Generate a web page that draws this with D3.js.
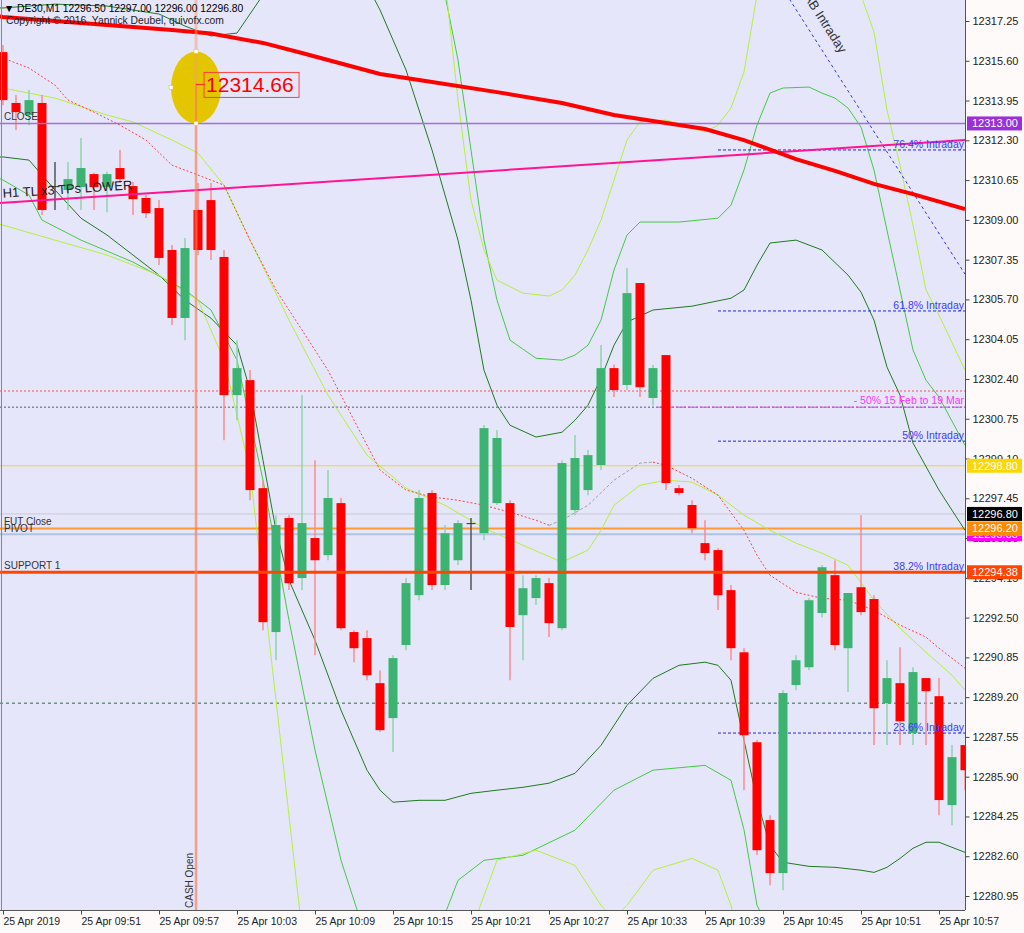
<!DOCTYPE html>
<html><head><meta charset="utf-8">
<script src="https://cdn.jsdelivr.net/npm/d3@7"></script>
<style>body{margin:0;background:#fffafa;}svg{display:block;font-family:"Liberation Sans",Arial,sans-serif;}</style>
</head><body>
<svg id="chart" width="1024" height="933"></svg>
<script>
// ---------- DATA ----------
const symbolHeader = "\u25BC DE30,M1  12296.50 12297.00 12296.00 12296.80";
const copyright = "Copyright \u00A9 2016, Yannick Deubel, quivofx.com";
const priceTicks = [12317.25,12315.60,12313.95,12312.30,12310.65,12309.00,12307.35,12305.70,12304.05,12302.40,12300.75,12299.10,12297.45,12295.80,12294.15,12292.50,12290.85,12289.20,12287.55,12285.90,12284.25,12282.60,12280.95];
const timeTickIdx = [0,6,12,18,24,30,36,42,48,54,60,66,72];
const timeTickLabels = ["25 Apr 2019","25 Apr 09:51","25 Apr 09:57","25 Apr 10:03","25 Apr 10:09","25 Apr 10:15","25 Apr 10:21","25 Apr 10:27","25 Apr 10:33","25 Apr 10:39","25 Apr 10:45","25 Apr 10:51","25 Apr 10:57"];

const opens  = [12315.96,12313.85,12313.35,12313.85,12310.40,12310.24,12310.36,12310.90,12310.36,12311.15,12310.40,12309.91,12309.49,12307.75,12304.93,12309.41,12309.82,12307.46,12301.73,12302.35,12297.87,12291.90,12296.63,12294.14,12295.80,12295.09,12297.25,12291.90,12291.65,12289.78,12288.33,12291.36,12293.43,12297.67,12293.85,12294.88,12296.42,12296.00,12297.25,12297.25,12292.60,12293.31,12293.93,12292.06,12296.96,12297.79,12298.83,12302.85,12302.15,12306.38,12301.61,12303.39,12297.87,12297.17,12295.59,12295.30,12293.64,12291.06,12287.33,12284.10,12281.90,12289.70,12290.44,12292.69,12294.26,12291.23,12293.76,12293.27,12288.95,12289.78,12287.71,12289.99,12289.24,12284.72,12287.21];
const highs  = [12316.25,12314.18,12314.39,12314.18,12311.40,12311.40,12312.40,12310.95,12311.00,12311.90,12310.57,12310.03,12309.82,12307.96,12308.25,12310.53,12310.53,12307.75,12304.01,12302.77,12298.20,12296.75,12296.75,12301.73,12299.03,12298.62,12297.46,12291.98,12291.98,12290.32,12290.94,12294.14,12297.79,12297.79,12296.34,12296.54,12296.63,12300.49,12300.28,12297.37,12294.26,12294.26,12294.14,12299.03,12300.07,12299.45,12303.81,12303.00,12307.00,12306.38,12302.98,12303.39,12298.00,12297.37,12296.54,12295.38,12293.85,12291.23,12287.42,12284.30,12289.49,12290.94,12293.31,12294.68,12294.88,12293.52,12296.75,12293.43,12290.73,12291.27,12290.44,12290.00,12289.99,12287.21,12287.21];
const lows   = [12313.76,12312.73,12312.93,12309.20,12309.41,12309.41,12309.41,12309.41,12309.32,12310.53,12309.20,12309.08,12307.13,12304.64,12304.01,12307.54,12307.33,12299.86,12300.69,12297.37,12291.98,12290.73,12293.64,12293.64,12290.94,12294.88,12291.98,12290.65,12289.90,12287.75,12286.92,12291.15,12293.22,12293.64,12293.64,12294.68,12293.64,12295.71,12297.17,12289.90,12290.73,12293.02,12291.69,12291.98,12296.75,12297.58,12298.62,12301.65,12301.94,12301.65,12301.30,12297.79,12297.58,12296.00,12294.88,12292.81,12290.73,12285.34,12282.65,12281.40,12281.19,12289.49,12290.32,12292.50,12291.15,12289.41,12292.60,12287.21,12287.21,12287.21,12287.21,12287.21,12284.30,12283.89,12285.34];
const closes = [12313.97,12313.47,12313.97,12309.41,12310.40,12310.69,12311.15,12310.36,12310.90,12310.69,12309.86,12309.28,12307.42,12304.93,12307.83,12307.75,12307.75,12301.73,12302.85,12297.79,12292.31,12296.34,12293.93,12296.42,12294.88,12297.46,12292.06,12291.23,12290.11,12287.83,12290.82,12293.93,12297.46,12293.85,12296.00,12296.42,12296.42,12300.36,12299.95,12292.11,12293.72,12294.14,12292.27,12298.91,12299.12,12299.24,12302.85,12301.94,12305.96,12302.06,12302.85,12298.08,12297.67,12296.21,12295.18,12293.43,12291.23,12287.62,12282.85,12281.90,12289.37,12290.73,12293.22,12294.59,12291.36,12293.52,12292.73,12288.74,12289.99,12288.20,12290.24,12289.45,12284.93,12286.71,12286.17];

// indicator lines: [barIndex, price]
const slowMA = [[-1,12317.5],[0,12317.42],[4,12317.25],[8,12317.08],[13,12316.88],[16,12316.73],[20,12316.34],[23,12315.92],[29,12315.05],[33,12314.72],[38,12314.30],[43,12313.85],[47,12313.35],[50,12313.10],[54,12312.77],[57,12312.31],[61,12311.52],[64,12311.03],[67,12310.49],[70,12310.07],[74,12309.45]];
const bandInnerUp = [[-1,12317.8],[0,12317.79],[4,12317.95],[8,12317.87],[12,12317.54],[14,12317.04],[16,12316.63],[18,12316.75],[19,12317.54],[20,12318.33],[22,12319.78],[26,12319.78],[28,12318.74],[29,12317.71],[31,12315.22],[33,12311.90],[35,12308.16],[36,12305.67],[37,12302.76],[38,12301.31],[39,12300.48],[41,12299.99],[43,12300.19],[44,12300.69],[45,12301.31],[46,12302.43],[47,12303.80],[48,12304.76],[50,12305.26],[53,12305.42],[56,12305.75],[57,12306.09],[58,12307.12],[59,12308.04],[61,12308.16],[63,12307.75],[65,12306.71],[66,12306.00],[67,12304.84],[68,12302.89],[69,12301.73],[70,12299.74],[72,12297.79],[74,12296.12]];
const bandInnerDn = [[-1,12311.6],[0,12311.61],[2,12311.48],[4,12310.24],[6,12309.07],[8,12308.37],[10,12307.54],[12,12306.71],[14,12305.67],[16,12304.92],[18,12303.80],[19,12301.94],[20,12299.03],[21,12296.12],[22,12294.05],[24,12291.56],[26,12288.66],[28,12286.17],[29,12285.34],[30,12284.84],[32,12284.92],[34,12284.92],[36,12285.21],[38,12285.34],[40,12285.46],[42,12285.63],[44,12286.04],[46,12287.20],[48,12288.86],[50,12289.98],[52,12290.52],[54,12290.65],[55,12290.52],[56,12289.90],[57,12287.41],[58,12284.92],[59,12283.05],[60,12282.35],[62,12282.18],[64,12282.14],[66,12282.02],[67,12281.93],[68,12282.14],[69,12282.51],[70,12282.93],[71,12283.18],[72,12283.18],[73,12282.97],[74,12282.76]];
const bandMidUp = [[-1,12320.5],[20,12321.0],[33,12319.78],[34,12318.33],[35,12315.63],[36,12311.90],[37,12308.16],[38,12305.67],[39,12304.01],[41,12303.26],[43,12303.18],[44,12303.39],[45,12303.80],[46,12304.84],[47,12306.92],[48,12308.37],[49,12308.91],[52,12308.91],[55,12309.07],[56,12309.61],[57,12311.07],[58,12312.93],[59,12314.26],[60,12314.47],[62,12314.51],[63,12314.26],[64,12314.05],[65,12313.64],[66,12312.85],[67,12311.07],[68,12308.57],[69,12306.09],[70,12303.60],[71,12302.35],[72,12301.65],[74,12299.65]];
const bandMidDn = [[-1,12310.9],[0,12310.65],[2,12310.03],[3,12308.99],[6,12308.16],[10,12307.25],[14,12306.09],[16,12305.26],[18,12303.18],[20,12298.20],[22,12292.39],[24,12287.00],[26,12282.43],[28,12279.11],[31,12278.28],[34,12280.20],[35,12281.60],[37,12282.43],[40,12282.64],[44,12283.68],[47,12285.34],[50,12286.17],[54,12286.37],[56,12285.75],[57,12283.70],[58,12280.56],[60,12278.5],[74,12278.0]];
const bandOuterUp = [[-1,12322],[30,12322],[34,12318.95],[35,12313.97],[36,12309.82],[37,12307.75],[38,12306.50],[40,12305.96],[42,12305.84],[43,12306.09],[44,12306.71],[45,12307.75],[46,12308.99],[47,12310.65],[48,12312.31],[49,12313.06],[51,12313.14],[53,12312.81],[54,12312.64],[55,12312.93],[56,12313.64],[57,12315.13],[58,12318.33],[60,12321.44],[65,12320.61],[66,12318.33],[67,12316.79],[68,12313.56],[69,12311.27],[70,12308.78],[71,12306.09],[72,12305.05],[74,12302.77]];
const bandOuterDn = [[-1,12308.9],[0,12308.78],[4,12308.16],[8,12307.54],[12,12306.71],[15,12305.67],[17,12303.18],[19,12298.62],[21,12289.07],[23,12279.5],[30,12278.0],[36,12279.5],[38,12282.43],[41,12282.85],[44,12282.22],[46,12280.56],[47,12280.0],[48,12280.56],[50,12282.02],[53,12282.51],[55,12282.02],[56,12280.56],[57,12278.3],[74,12277.0]];
const fastMA = [[-1,12314.6],[0,12314.47],[4,12314.05],[8,12313.35],[10,12313.06],[13,12312.31],[15,12311.77],[17,12310.44],[19,12308.16],[22,12304.84],[25,12301.73],[28,12299.24],[31,12297.87],[34,12297.16],[37,12296.21],[40,12295.50],[43,12294.80],[45,12295.30],[46,12296.12],[47,12297.16],[49,12297.99],[51,12298.20],[53,12298.12],[55,12297.58],[57,12296.75],[59,12296.12],[61,12295.59],[63,12295.17],[65,12294.67],[67,12293.22],[69,12292.06],[71,12291.06],[73,12290.11],[74,12289.49]];
const emaDotted = [[-1,12315.9],[0,12315.71],[2,12315.30],[4,12314.59],[5,12313.97],[7,12313.47],[9,12312.93],[11,12312.31],[13,12311.27],[15,12310.86],[17,12310.44],[19,12308.16],[21,12306.09],[23,12304.43],[25,12302.76],[27,12300.69],[29,12298.62],[31,12297.79],[33,12297.50],[35,12297.37],[37,12297.16],[39,12296.87],[41,12296.54],[42,12296.33]];
const emaDotted2 = [[42,12296.33],[43,12296.54],[45,12297.16],[47,12298.20],[49,12298.91],[50,12298.95]];
const emaDotted3 = [[50,12298.95],[51,12298.82],[53,12298.28],[55,12297.58],[57,12296.12],[58,12295.09],[59,12294.26],[61,12293.55],[63,12293.30],[65,12293.22],[67,12292.81],[69,12292.19],[71,12291.69],[72,12291.23],[74,12290.40]];

// horizontal levels
const closeLevel = 12313.00, goldLevel = 12298.80, bidLevel = 12296.80, futClose = 12296.20, pivot = 12295.96, support1 = 12294.38;
const redDotLevel = 12301.90, grayDotLevel = 12301.23, greenDotLevel = 12288.95;
const fibLevels = [12311.90, 12305.22, 12299.82, 12294.39, 12287.71];
const fibNames = ["76.4%  Intraday","61.8% Intraday","50%   Intraday","38.2%  Intraday","23.6%  Intraday"];
const fibStartIdx = 55;
const trendTL = [[0,12309.71],[74,12312.31]];
const abLine = [[61,12317.73],[74,12306.75]];
const cashOpenIdx = 14.85;
const markPrice = 12314.66;

// ---------- DRAW ----------
const svg = d3.select("#chart");
const plotR = 965, plotB = 910;
const x = d3.scaleLinear().domain([0,74]).range([3,965]);
const y = d3.scaleLinear().domain([12280.95,12317.25]).range([896,21]);

svg.append("rect").attr("width",1024).attr("height",933).attr("fill","#fffafa");
svg.append("rect").attr("x",0).attr("y",0).attr("width",plotR).attr("height",plotB).attr("fill","#e6e6fa");
svg.append("clipPath").attr("id","clip").append("rect").attr("x",0).attr("y",0).attr("width",plotR).attr("height",plotB);
const g = svg.append("g").attr("clip-path","url(#clip)");

function hline(p, color, w, dash, x0){
  g.append("line").attr("x1",x0===undefined?0:x0).attr("x2",plotR).attr("y1",y(p)).attr("y2",y(p))
   .attr("stroke",color).attr("stroke-width",w).attr("stroke-dasharray",dash||null);
}
hline(redDotLevel,"#ff5050",1,"2,2");
hline(grayDotLevel,"#555577",1,"2,2");
hline(greenDotLevel,"#2e6b3e",1,"3,3");
g.append("line").attr("x1",x(fibStartIdx)-60).attr("x2",plotR).attr("y1",y(grayDotLevel)).attr("y2",y(grayDotLevel)).attr("stroke","#ff33ff").attr("stroke-dasharray","4,2");
hline(bidLevel,"#c8c8d0",1);
hline(goldLevel,"#ffd700",1);
hline(pivot,"#b0c4de",2);
hline(futClose,"#ff9933",2);

const line = d3.line().x(d=>x(d[0])).y(d=>y(d[1]));
function pl(data,color,w,dash){
  g.append("path").datum(data).attr("d",line).attr("fill","none").attr("stroke",color).attr("stroke-width",w).attr("stroke-dasharray",dash||null);
}
pl(bandInnerUp,"#1f7a1f",1); pl(bandInnerDn,"#1f7a1f",1);
pl(bandMidUp,"#44c944",1); pl(bandMidDn,"#44c944",1);
pl(bandOuterUp,"#b4f03c",1); pl(bandOuterDn,"#b4f03c",1);
pl(fastMA,"#b4f03c",1);
pl(emaDotted,"#ff4040",1,"2,2");
pl(emaDotted2,"#a0a0a0",1,"3,2");
pl(emaDotted3,"#ff4040",1,"2,2");

// fib lines
fibLevels.forEach((p,i)=>{
  g.append("line").attr("x1",x(fibStartIdx)).attr("x2",plotR).attr("y1",y(p)).attr("y2",y(p)).attr("stroke","#2222ee").attr("stroke-dasharray","3,2");
});

// candles
const bw = 9;
opens.forEach((o,i)=>{
  const c = closes[i], up = c>o, dn = c<o;
  const col = up?"#3cb371":(dn?"#ff0000":"#333333");
  const wcol = up?"#8fd4aa":(dn?"#ff8a8a":"#555555");
  g.append("line").attr("x1",x(i)).attr("x2",x(i)).attr("y1",y(highs[i])).attr("y2",y(lows[i])).attr("stroke",wcol).attr("stroke-width",1.5);
  const top = y(Math.max(o,c)), bot = y(Math.min(o,c));
  g.append("rect").attr("x",x(i)-bw/2).attr("y",top).attr("width",bw).attr("height",Math.max(1,bot-top)).attr("fill",col);
});

hline(support1,"#ff4500",3);
hline(closeLevel,"#a070e0",1.5);

// AB intraday line
g.append("path").datum([[abLine[0][0]-2,abLine[0][1]+2*(abLine[0][1]-abLine[1][1])/(abLine[1][0]-abLine[0][0])],abLine[1]]).attr("d",line).attr("fill","none").attr("stroke","#3333ee").attr("stroke-dasharray","3,3");
// H1 trend line
{
  const s = (trendTL[1][1]-trendTL[0][1])/(trendTL[1][0]-trendTL[0][0]);
  const a = -1, b = 75;
  g.append("path").datum([[a,trendTL[0][1]+s*(a-trendTL[0][0])],[b,trendTL[0][1]+s*(b-trendTL[0][0])]]).attr("d",line).attr("fill","none").attr("stroke","#ff1493").attr("stroke-width",2);
}
// slow MA thick
pl(slowMA,"#ff0000",4);

// ellipse + cash open
const cx = x(cashOpenIdx);
g.append("ellipse").attr("cx",cx).attr("cy",y(markPrice)+4).attr("rx",25).attr("ry",36).attr("fill","#e3c600");
g.append("line").attr("x1",cx).attr("x2",cx).attr("y1",0).attr("y2",plotB).attr("stroke","#f4a070").attr("stroke-width",3).attr("opacity",0.5);
g.append("line").attr("x1",cx).attr("x2",cx).attr("y1",y(markPrice)).attr("y2",plotB).attr("stroke","#ff5030").attr("stroke-width",1).attr("opacity",0.6);
[[cx,y(markPrice)-32],[cx-25,y(markPrice)+4],[cx,y(markPrice)+40]].forEach(p=>{
  g.append("rect").attr("x",p[0]-2).attr("y",p[1]-2).attr("width",4).attr("height",4).attr("fill","#fff").attr("stroke","#e3c600").attr("stroke-width",0.5);
});
g.append("line").attr("x1",cx).attr("x2",cx+9).attr("y1",y(markPrice)+1).attr("y2",y(markPrice)+1).attr("stroke","#ff2020");
g.append("rect").attr("x",cx+8).attr("y",y(markPrice)-11).attr("width",95).attr("height",25).attr("fill","none").attr("stroke","#ff4040").attr("stroke-width",1);
g.append("text").attr("x",cx+10).attr("y",y(markPrice)+9).attr("fill","#ff0000").attr("font-size",21).text(markPrice.toFixed(2));

// texts on chart
const t = (txt,xx,yy,opt={})=>g.append("text").attr("x",xx).attr("y",yy).attr("font-size",opt.size||10).attr("fill",opt.fill||"#333").attr("text-anchor",opt.anchor||"start").attr("transform",opt.rot?`rotate(${opt.rot},${xx},${yy})`:null).text(txt);
t(symbolHeader,4,12,{size:10.3,fill:"#000"});
t(copyright,6,24,{size:10.3,fill:"#222"});
t("CLOSE",4,y(closeLevel)-3,{size:10});
t("FUT Close",4,y(futClose)-3,{size:10});
t("PIVOT",4,y(pivot)-2,{size:10});
t("SUPPORT 1",4,y(support1)-3,{size:10});
{
  const s = (y(trendTL[1][1])-y(trendTL[0][1]))/(x(trendTL[1][0])-x(trendTL[0][0]));
  t("H1 TL x3 TPs LOWER",3,y(trendTL[0][1])-5,{size:13,rot:Math.atan(s)*180/Math.PI,fill:"#222"});
}
fibLevels.forEach((p,i)=>t(fibNames[i],plotR-1,y(p)-2,{size:10.5,fill:"#3a3aff",anchor:"end"}));
t("- 50% 15 Feb to 19 Mar",plotR-1,y(grayDotLevel)-3,{size:10.5,fill:"#ff33ff",anchor:"end"});
{
  const ang = Math.atan((y(abLine[1][1])-y(abLine[0][1]))/(x(abLine[1][0])-x(abLine[0][0])))*180/Math.PI;
  t("AB Intraday",840,54,{size:13,fill:"#333",anchor:"end",rot:ang});
}
t("CASH Open",cx-3,plotB-2,{size:10,rot:-90,fill:"#333"});

// axes frame
svg.append("line").attr("x1",plotR+0.5).attr("x2",plotR+0.5).attr("y1",0).attr("y2",plotB).attr("stroke","#555");
svg.append("line").attr("x1",0).attr("x2",plotR).attr("y1",plotB+0.5).attr("y2",plotB+0.5).attr("stroke","#555");
svg.append("line").attr("x1",1.5).attr("x2",1.5).attr("y1",0).attr("y2",plotB).attr("stroke","#888");

// right axis
const yAxis = d3.axisRight(y).tickValues(priceTicks).tickFormat(d3.format(".2f")).tickSize(4).tickPadding(3);
const ya = svg.append("g").attr("transform",`translate(${plotR+0.5},0)`).call(yAxis);
ya.select(".domain").remove();
ya.selectAll("text").attr("font-size",11).attr("fill","#222").attr("font-family","Liberation Sans, Arial");
ya.selectAll("line").attr("stroke","#444");

// bottom axis
const xAxis = d3.axisBottom(x).tickValues(timeTickIdx).tickFormat((d,i)=>timeTickLabels[i]).tickSize(4);
const xa = svg.append("g").attr("transform",`translate(0,${plotB+0.5})`).call(xAxis);
xa.select(".domain").remove();
xa.selectAll("text").attr("font-size",10.5).attr("fill","#222").attr("text-anchor","start").attr("dx",0).attr("font-family","Liberation Sans, Arial");
xa.selectAll("line").attr("stroke","#444");

// price labels on axis
svg.append("clipPath").attr("id","pivclip").append("rect").attr("x",plotR+2).attr("y",y(futClose)+7).attr("width",56).attr("height",14);
function plabel(p,bg,fg,txt,clip){
  const gg = svg.append("g").attr("clip-path",clip?`url(#${clip})`:null);
  gg.append("rect").attr("x",plotR+2).attr("y",y(p)-7).attr("width",55).attr("height",14).attr("fill",bg);
  gg.append("text").attr("x",plotR+7).attr("y",y(p)+4).attr("font-size",11).attr("fill",fg).text(txt||p.toFixed(2));
}
plabel(closeLevel,"#9b30d9","#fff");
plabel(goldLevel,"#ffd700","#fff");
plabel(pivot,"#ff00ff","#fff","12295.88","pivclip");
plabel(futClose,"#ff8c00","#fff");
plabel(bidLevel,"#000000","#fff");
plabel(support1,"#ff4500","#fff");
</script>
</body></html>
